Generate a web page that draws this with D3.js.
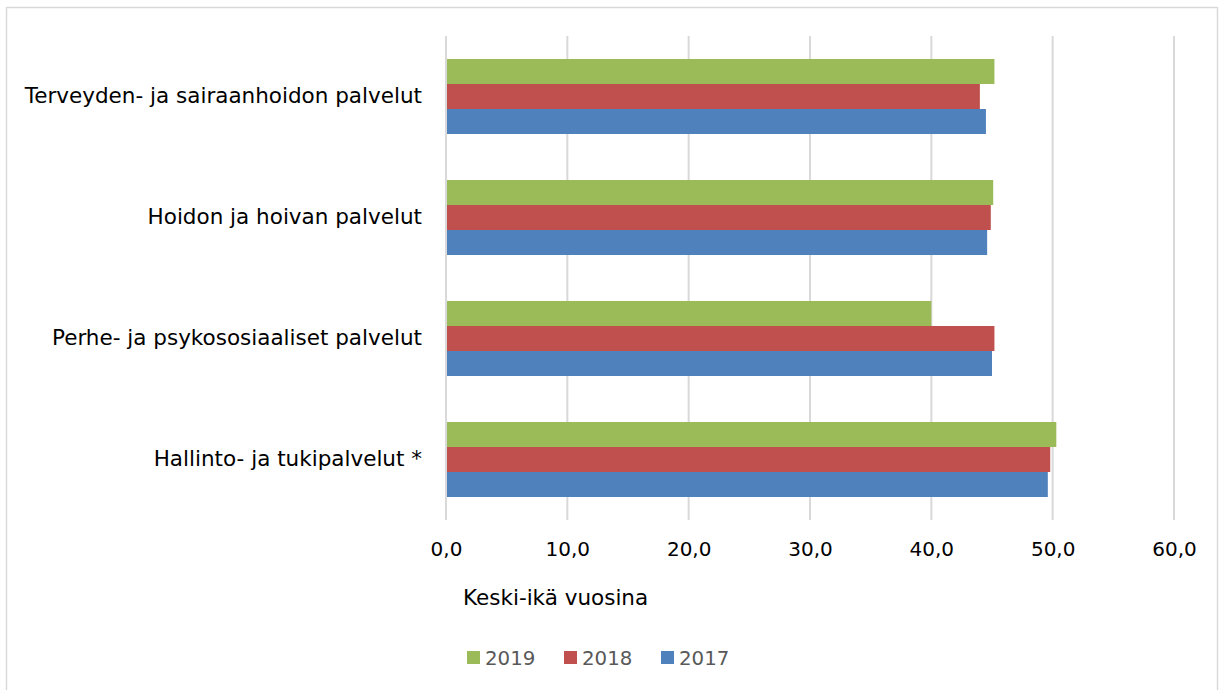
<!DOCTYPE html>
<html>
<head>
<meta charset="utf-8">
<script src="https://cdn.jsdelivr.net/npm/d3@7"></script>
<style>
  body { margin: 0; background: #fff; }
  text { font-family: "DejaVu Sans", sans-serif; }
</style>
</head>
<body>
<div id="chart"></div>
<script>
// chart data
var categories = ["Terveyden- ja sairaanhoidon palvelut", "Hoidon ja hoivan palvelut",
                  "Perhe- ja psykososiaaliset palvelut", "Hallinto- ja tukipalvelut *"];
var years = ["2019", "2018", "2017"];
var values2019 = [45.2, 45.1, 40.0, 50.3];
var values2018 = [44.0, 44.9, 45.2, 49.8];
var values2017 = [44.5, 44.6, 45.0, 49.6];
var xTicks = [0, 10, 20, 30, 40, 50, 60];
var colors = ["#9bbb59", "#c0504d", "#4f81bd"];

var svgWidth = 1224;
var svgHeight = 690;

var margin = { top: 36, right: 50, bottom: 170, left: 446 };
var width = 1174 - margin.left;
var height = 520 - margin.top;

var svg = d3.select("#chart")
  .append("svg")
  .attr("width", svgWidth)
  .attr("height", svgHeight);

// outer border
svg.append("rect")
  .attr("x", 6.5).attr("y", 7.5)
  .attr("width", 1211).attr("height", 700)
  .attr("fill", "none")
  .attr("stroke", "#d9d9d9")
  .attr("stroke-width", 1.5);

var chartGroup = svg.append("g")
  .attr("transform", `translate(${margin.left}, ${margin.top})`);

var series = [values2019, values2018, values2017];

var xScale = d3.scaleLinear().domain([0, 60]).range([0, width]);
var yScale = d3.scaleBand().domain(categories).range([0, height])
  .paddingInner(0.38).paddingOuter(0.19);
var subScale = d3.scaleBand().domain(years).range([0, yScale.bandwidth()]);

// gridlines
chartGroup.append("g")
  .selectAll("line")
  .data(xTicks)
  .enter()
  .append("line")
  .attr("x1", d => xScale(d)).attr("x2", d => xScale(d))
  .attr("y1", 0).attr("y2", height)
  .attr("stroke", "#d9d9d9")
  .attr("stroke-width", 2);

// bars
categories.forEach(function(cat, i) {
  years.forEach(function(yr, j) {
    chartGroup.append("rect")
      .attr("x", xScale(0) + 1)
      .attr("y", yScale(cat) + subScale(yr))
      .attr("width", xScale(series[j][i]) - xScale(0) - 1)
      .attr("height", subScale.bandwidth())
      .attr("fill", colors[j]);
  });
});

// x axis labels
var bottomAxis = d3.axisBottom(xScale)
  .tickValues(xTicks)
  .tickSize(0)
  .tickPadding(22)
  .tickFormat(d => d3.format(".1f")(d).replace(".", ","));

var xAxisG = chartGroup.append("g")
  .attr("transform", `translate(0, ${height})`)
  .call(bottomAxis);
xAxisG.select(".domain").remove();
xAxisG.selectAll("text")
  .attr("font-size", 20)
  .attr("fill", "#000")
  .style("font-family", "DejaVu Sans, sans-serif");

// y axis labels
var leftAxis = d3.axisLeft(yScale).tickSize(0).tickPadding(24);
var yAxisG = chartGroup.append("g").call(leftAxis);
yAxisG.select(".domain").remove();
yAxisG.selectAll("text")
  .attr("font-size", 21.5)
  .attr("fill", "#000")
  .style("font-family", "DejaVu Sans, sans-serif");

// axis title
svg.append("text")
  .attr("x", 463)
  .attr("y", 605)
  .attr("font-size", 21.5)
  .attr("fill", "#000")
  .text("Keski-ikä vuosina");

// legend
var legendX = [467, 564, 661];
var legend = svg.append("g");
years.forEach(function(yr, j) {
  legend.append("rect")
    .attr("x", legendX[j]).attr("y", 651)
    .attr("width", 13).attr("height", 13)
    .attr("fill", colors[j]);
  legend.append("text")
    .attr("x", legendX[j] + 18).attr("y", 665)
    .attr("font-size", 19.8)
    .attr("fill", "#595959")
    .text(yr);
});
</script>
</body>
</html>
